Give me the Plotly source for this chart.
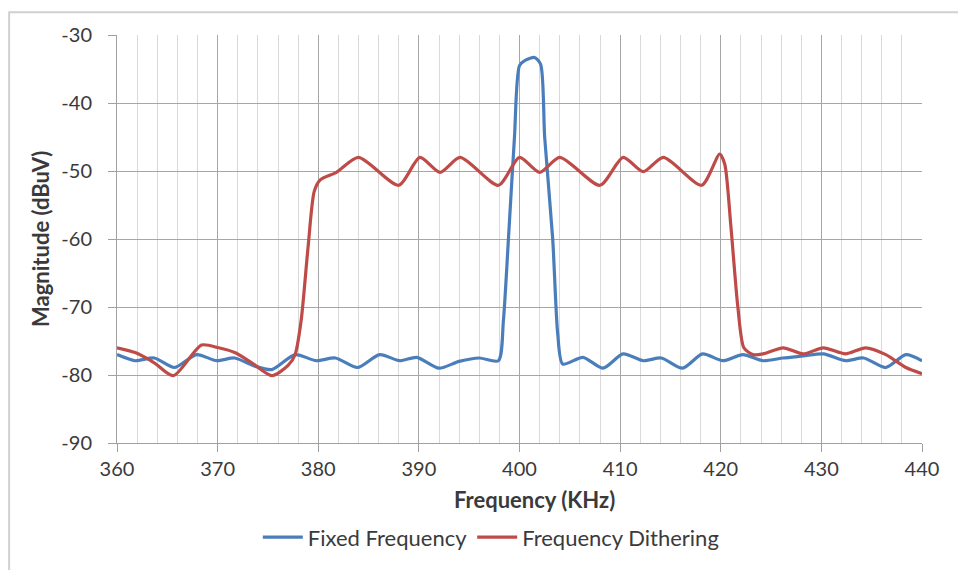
import plotly.graph_objects as go

fixed_x = [360.0, 361.8, 363.7, 365.7, 367.9, 369.9, 371.7, 373.7, 375.4, 377.7,
           379.8, 381.7, 383.9, 386.1, 388.1, 389.8, 392.0, 394.0, 396.0, 397.9,
           398.4, 398.9, 399.5, 400.0, 400.6, 401.5, 402.1, 402.5, 403.3, 403.8,
           404.3, 406.3, 408.3, 410.3, 412.3, 414.1, 416.2, 418.2, 420.2, 422.2,
           424.2, 426.2, 428.2, 430.2, 432.4, 434.2, 436.4, 438.4, 440.0]
fixed_y = [-77.0, -77.9, -77.5, -78.9, -77.0, -77.9, -77.5, -78.7, -79.2, -77.0,
           -77.9, -77.5, -78.9, -77.0, -77.9, -77.4, -79.0, -78.0, -77.5, -77.9,
           -72.0, -60.0, -45.0, -34.5, -33.7, -33.3, -34.3, -45.0, -60.0, -74.0,
           -78.4, -77.4, -79.0, -76.9, -77.9, -77.5, -79.0, -76.9, -77.9, -77.0,
           -77.9, -77.5, -77.2, -76.9, -77.9, -77.5, -78.9, -77.0, -77.9]

dith_x = [360.0, 361.8, 363.7, 365.6, 368.4, 370.1, 371.7, 373.4, 375.4, 377.0,
          377.7, 378.3, 379.0, 379.6, 380.2, 381.8, 384.0, 388.0, 390.1, 392.1,
          394.1, 397.9, 400.0, 402.0, 404.0, 408.0, 410.3, 412.3, 414.3, 418.1,
          419.9, 420.4, 421.0, 421.7, 422.3, 423.2, 424.2, 426.2, 428.2, 430.2,
          432.4, 434.4, 436.4, 438.4, 440.0]
dith_y = [-76.0, -76.7, -78.2, -80.1, -75.6, -76.0, -76.7, -78.2, -80.1, -78.6,
          -77.0, -72.0, -61.0, -53.0, -51.3, -50.2, -48.0, -52.1, -48.0, -50.2,
          -48.0, -52.1, -48.0, -50.2, -48.0, -52.1, -48.0, -50.1, -48.0, -52.1,
          -47.5, -49.0, -58.0, -70.0, -76.0, -77.0, -76.9, -76.0, -76.9, -76.0,
          -76.9, -76.0, -77.0, -78.9, -79.8]

x_ticks = [360, 370, 380, 390, 400, 410, 420, 430, 440]
y_ticks = [-90, -80, -70, -60, -50, -40, -30]

FONT = "Lato"
TXT = "#3a3a3a"
fig = go.Figure()
fig.add_trace(go.Scatter(x=fixed_x, y=fixed_y, mode="lines", name="Fixed Frequency",
                         line=dict(color="#4a7ebb", width=3.2, shape="spline", smoothing=0.7)))
fig.add_trace(go.Scatter(x=dith_x, y=dith_y, mode="lines", name="Frequency Dithering",
                         line=dict(color="#be4b48", width=3.2, shape="spline", smoothing=0.7)))

fig.update_layout(
    width=958, height=570,
    margin=dict(l=117, r=36, t=35, b=124),
    paper_bgcolor="white", plot_bgcolor="white",
    font=dict(family=FONT, size=20, color=TXT),
    showlegend=True,
    legend=dict(orientation="h", x=0.465, xanchor="center", y=-0.231, yanchor="middle",
                font=dict(size=22, color=TXT), itemwidth=40, tracegroupgap=0),
    xaxis=dict(range=[360, 440], tickvals=x_ticks, ticktext=[str(v) for v in x_ticks],
               showgrid=True, gridcolor="#a6a6a6", gridwidth=1,
               minor=dict(dtick=2, tick0=360, showgrid=True, gridcolor="#d9d9d9", gridwidth=1),
               showline=True, linecolor="#a0a0a0", linewidth=1,
               ticks="outside", ticklen=8, tickcolor="#a0a0a0", zeroline=False,
               tickfont=dict(size=20, color=TXT)),
    yaxis=dict(range=[-90, -30], tickvals=y_ticks, ticktext=[str(v) for v in y_ticks],
               showgrid=True, gridcolor="#a6a6a6", gridwidth=1,
               showline=True, linecolor="#a0a0a0", linewidth=1,
               ticks="outside", ticklen=8, tickcolor="#a0a0a0", zeroline=False,
               ticklabelstandoff=12,
               tickfont=dict(size=20, color=TXT)),
)

fig.add_annotation(text="<b>Frequency (KHz)</b>", xref="paper", yref="paper",
                   x=0.519, y=-0.139, xanchor="center", yanchor="middle", showarrow=False,
                   font=dict(size=22, color=TXT, family=FONT))
fig.add_annotation(text="<b>Magnitude (dBuV)</b>", xref="paper", yref="paper",
                   x=-0.0957, y=0.5, xanchor="center", yanchor="middle", showarrow=False,
                   textangle=-90, font=dict(size=22, color=TXT, family=FONT))

fig.add_shape(type="rect", xref="paper", yref="paper",
              x0=-0.134, x1=1.06, y0=-0.33, y1=1.056,
              line=dict(color="#d0d0d0", width=2), fillcolor="rgba(0,0,0,0)", layer="below")

fig.write_html("out.html", config={"displayModeBar": False},
               post_script="document.body.style.margin='0';")
